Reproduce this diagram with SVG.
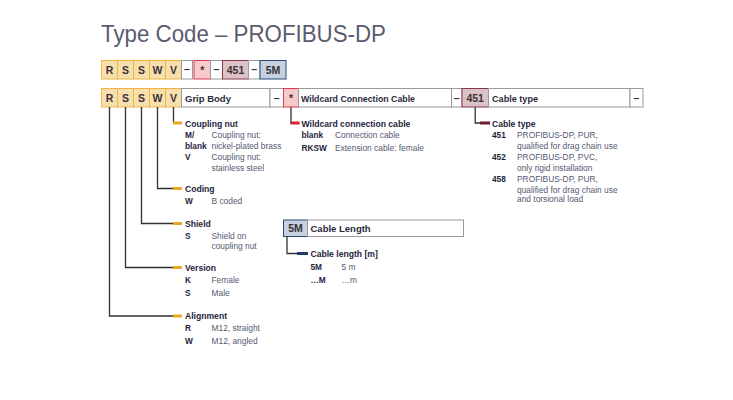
<svg xmlns="http://www.w3.org/2000/svg" width="733" height="400" viewBox="0 0 733 400">
<style>
text{font-family:"Liberation Sans",Arial,sans-serif}
.title{font-size:24px;fill:#5a5b6e}
.code{font-size:10.5px;font-weight:bold;fill:#3a3236;text-anchor:middle}
.lbl{font-size:9.5px;font-weight:bold;fill:#2a2a3a}
.hd{font-size:8.6px;font-weight:bold;fill:#1e1e3c}
.k{font-size:8.3px;font-weight:bold;fill:#1e1e3c}
.d{font-size:8.4px;fill:#545a72}
.ob{fill:#f7dfae;stroke:#f0b545;stroke-width:1}
.wb{fill:#fff;stroke:#9a9a9a;stroke-width:1}
.rb{fill:#f7c9cb;stroke:#df3b4c;stroke-width:1}
.mb{fill:#dcc1c6;stroke:#86394a;stroke-width:1}
.bb{fill:#c5d0e0;stroke:#2b4a78;stroke-width:1}
.ln{fill:none;stroke:#333;stroke-width:1.3}
.dash{stroke-width:3;fill:none}
</style>
<text class="title" x="101" y="42" textLength="285" lengthAdjust="spacingAndGlyphs">Type Code – PROFIBUS-DP</text>

<g id="code-row">
<rect class="ob" x="101.5" y="60.5" width="16" height="18.5"/><text class="code" x="109.5" y="73.5">R</text>
<rect class="ob" x="117.5" y="60.5" width="16" height="18.5"/><text class="code" x="125.5" y="73.5">S</text>
<rect class="ob" x="133.5" y="60.5" width="16" height="18.5"/><text class="code" x="141.5" y="73.5">S</text>
<rect class="ob" x="149.5" y="60.5" width="16" height="18.5"/><text class="code" x="157.5" y="73.5">W</text>
<rect class="ob" x="165.5" y="60.5" width="16" height="18.5"/><text class="code" x="173.5" y="73.5">V</text>
<rect class="wb" x="181.5" y="60.5" width="11" height="18.5"/><text class="code" x="187" y="73">–</text>
<rect class="rb" x="194" y="60.5" width="16.5" height="18.5"/><text class="code" x="202.2" y="73.5">*</text>
<rect class="wb" x="210.5" y="60.5" width="12" height="18.5"/><text class="code" x="216.5" y="73">–</text>
<rect class="mb" x="222.5" y="60.5" width="26" height="18.5"/><text class="code" x="235.5" y="73.5">451</text>
<rect class="wb" x="248.5" y="60.5" width="11.5" height="18.5"/><text class="code" x="254.2" y="73">–</text>
<rect class="bb" x="260" y="60.5" width="26" height="18.5"/><text class="code" x="273" y="73.5">5M</text>
</g>

<g id="header-row">
<rect class="ob" x="101.5" y="88.5" width="16" height="18.5"/><text class="code" x="109.5" y="102">R</text>
<rect class="ob" x="117.5" y="88.5" width="16" height="18.5"/><text class="code" x="125.5" y="102">S</text>
<rect class="ob" x="133.5" y="88.5" width="16" height="18.5"/><text class="code" x="141.5" y="102">S</text>
<rect class="ob" x="149.5" y="88.5" width="16" height="18.5"/><text class="code" x="157.5" y="102">W</text>
<rect class="ob" x="165.5" y="88.5" width="16" height="18.5"/><text class="code" x="173.5" y="102">V</text>
<rect class="wb" x="181.5" y="88.5" width="88.5" height="18.5"/><text class="lbl" x="185" y="101.5">Grip Body</text>
<rect class="wb" x="270" y="88.5" width="13.5" height="18.5"/><text class="code" x="276.7" y="101.5">–</text>
<rect class="rb" x="283.5" y="88.5" width="15" height="18.5"/><text class="code" x="291" y="102">*</text>
<rect class="wb" x="298.5" y="88.5" width="153" height="18.5"/><text class="lbl" x="301" y="101.5" textLength="114" lengthAdjust="spacingAndGlyphs">Wildcard Connection Cable</text>
<rect class="wb" x="451.5" y="88.5" width="10.5" height="18.5"/><text class="code" x="456.7" y="101.5">–</text>
<rect class="mb" x="462" y="88.5" width="26.5" height="18.5"/><text class="code" x="475.2" y="102">451</text>
<rect class="wb" x="488.5" y="88.5" width="141.5" height="18.5"/><text class="lbl" x="492" y="101.5" textLength="46" lengthAdjust="spacingAndGlyphs">Cable type</text>
<rect class="wb" x="630" y="88.5" width="13" height="18.5"/><text class="code" x="636.5" y="101.5">–</text>
</g>

<g id="connectors">
<path class="ln" d="M173.5 107V123H174"/>
<path class="ln" d="M157.5 107V188.5H174"/>
<path class="ln" d="M141.5 107V223.5H174"/>
<path class="ln" d="M125.5 107V267.5H174"/>
<path class="ln" d="M109.5 107V316H174"/>
<path class="ln" d="M291 107V123H291.5"/>
<path class="ln" d="M475.2 107V123H481"/>
<path class="ln" d="M287 236.5V253.5H298"/>
<path class="dash" stroke="#e8a722" d="M173 123H182M173 188.5H182M173 223.5H182M173 267.5H182M173 316H182"/>
<path class="dash" stroke="#d41f35" d="M290.5 123H299.5"/>
<path class="dash" stroke="#72182c" d="M480 123H490"/>
<path class="dash" stroke="#1f3a66" d="M297 253.5H308"/>
</g>

<g id="coupling-nut">
<text class="hd" x="185" y="126.5">Coupling nut</text>
<text class="k" x="185" y="138">M/</text><text class="d" x="211.5" y="138">Coupling nut:</text>
<text class="k" x="185" y="148.5">blank</text><text class="d" x="211.5" y="148.5">nickel-plated brass</text>
<text class="k" x="185" y="160">V</text><text class="d" x="211.5" y="160">Coupling nut:</text>
<text class="d" x="211.5" y="170.5">stainless steel</text>
</g>
<g id="coding">
<text class="hd" x="185" y="191.5">Coding</text>
<text class="k" x="185" y="203.5">W</text><text class="d" x="211.5" y="203.5">B coded</text>
</g>
<g id="shield">
<text class="hd" x="185" y="226.5">Shield</text>
<text class="k" x="185" y="238.5">S</text><text class="d" x="211.5" y="238.5">Shield on</text>
<text class="d" x="211.5" y="249">coupling nut</text>
</g>
<g id="version">
<text class="hd" x="185" y="270.5">Version</text>
<text class="k" x="185" y="283">K</text><text class="d" x="211.5" y="283">Female</text>
<text class="k" x="185" y="295.5">S</text><text class="d" x="211.5" y="295.5">Male</text>
</g>
<g id="alignment">
<text class="hd" x="185" y="319">Alignment</text>
<text class="k" x="185" y="331">R</text><text class="d" x="211.5" y="331">M12, straight</text>
<text class="k" x="185" y="344">W</text><text class="d" x="211.5" y="344">M12, angled</text>
</g>
<g id="wildcard">
<text class="hd" x="301.5" y="126.5">Wildcard connection cable</text>
<text class="k" x="301.5" y="138">blank</text><text class="d" x="335" y="138">Connection cable</text>
<text class="k" x="301.5" y="150.5">RKSW</text><text class="d" x="335" y="150.5">Extension cable: female</text>
</g>
<g id="cable-type">
<text class="hd" x="492" y="126.5">Cable type</text>
<text class="k" x="492" y="138">451</text><text class="d" x="517" y="138">PROFIBUS-DP, PUR,</text>
<text class="d" x="517" y="148.5">qualified for drag chain use</text>
<text class="k" x="492" y="160">452</text><text class="d" x="517" y="160">PROFIBUS-DP, PVC,</text>
<text class="d" x="517" y="170.5">only rigid installation</text>
<text class="k" x="492" y="182">458</text><text class="d" x="517" y="182">PROFIBUS-DP, PUR,</text>
<text class="d" x="517" y="192.5">qualified for drag chain use</text>
<text class="d" x="517" y="201.5">and torsional load</text>
</g>
<g id="cable-length">
<rect class="bb" x="283.5" y="220" width="24" height="16.5"/><text class="code" x="295.5" y="232">5M</text>
<rect class="wb" x="307.5" y="220" width="156" height="16.5"/><text class="lbl" x="310.5" y="231.5" font-size="9px">Cable Length</text>
<text class="hd" x="310.5" y="256.5" font-size="8px">Cable length [m]</text>
<text class="k" x="310.5" y="270" font-size="7.5px">5M</text><text class="d" x="341.5" y="270" font-size="7.5px">5 m</text>
<text class="k" x="310.5" y="282.5" font-size="7.5px">…M</text><text class="d" x="341.5" y="282.5" font-size="7.5px">…m</text>
</g>
</svg>
